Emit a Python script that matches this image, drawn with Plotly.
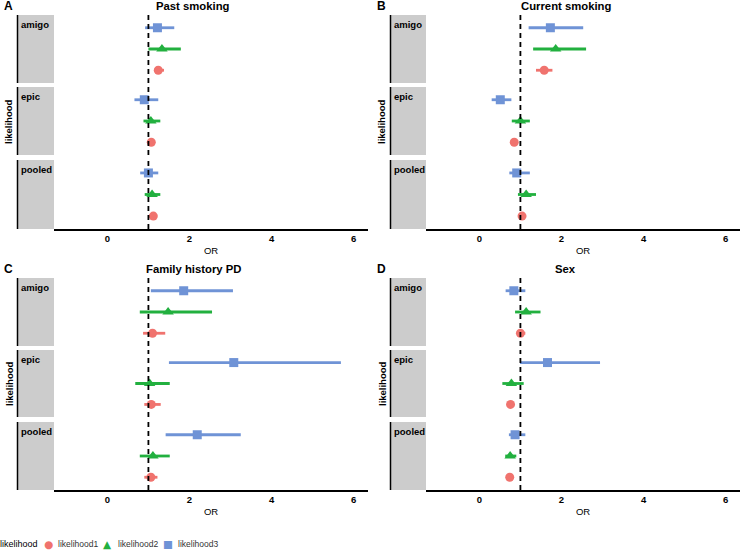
import plotly.graph_objects as go

W, H = 741, 550

studies = ["amigo", "epic", "pooled"]
likelihoods = ["likelihood1", "likelihood2", "likelihood3"]
panel_titles = ["Past smoking", "Current smoking", "Family history PD", "Sex"]
panel_letters = ["A", "B", "C", "D"]

# OR estimates, rows = study (amigo, epic, pooled), cols = likelihood1..3
past_or = [[1.24, 1.33, 1.22], [1.07, 1.06, 0.90], [1.12, 1.09, 1.00]]
past_lo = [[1.15, 1.00, 0.92], [1.01, 0.88, 0.66], [1.05, 0.91, 0.80]]
past_hi = [[1.38, 1.79, 1.63], [1.14, 1.29, 1.24], [1.19, 1.29, 1.24]]

current_or = [[1.58, 1.86, 1.73], [0.85, 1.00, 0.51], [1.04, 1.14, 0.91]]
current_lo = [[1.38, 1.31, 1.20], [0.78, 0.79, 0.30], [0.98, 0.94, 0.73]]
current_hi = [[1.78, 2.60, 2.53], [0.93, 1.23, 0.78], [1.10, 1.38, 1.23]]

family_or = [[1.10, 1.48, 1.86], [1.07, 1.03, 3.08], [1.06, 1.11, 2.19]]
family_lo = [[0.87, 0.79, 1.06], [0.90, 0.68, 1.50], [0.90, 0.79, 1.42]]
family_hi = [[1.41, 2.55, 3.06], [1.30, 1.52, 5.69], [1.22, 1.52, 3.25]]

sex_or = [[1.00, 1.14, 0.84], [0.76, 0.78, 1.66], [0.74, 0.75, 0.87]]
sex_lo = [[0.92, 0.87, 0.64], [0.72, 0.56, 0.99], [0.70, 0.63, 0.72]]
sex_hi = [[1.12, 1.49, 1.12], [0.80, 1.08, 2.94], [0.78, 0.90, 1.12]]

x_ticks = [0, 2, 4, 6]

panels_or = [past_or, current_or, family_or, sex_or]
panels_lo = [past_lo, current_lo, family_lo, sex_lo]
panels_hi = [past_hi, current_hi, family_hi, sex_hi]

colors = ["#F0736E", "#22B03F", "#6F93D6"]
symbols = ["circle", "triangle-up", "square"]
legend_glyphs = ["\u25CF", "\u25B2", "\u25A0"]
msizes = [9, 10, 9]

FONT = "Liberation Sans, Arial, sans-serif"

# pixel layout: plot-area x range and facet y ranges for each panel
panel_x = [(54, 368), (426, 740), (54, 368), (426, 740)]
strip_x = [(18, 54), (391, 426), (18, 54), (391, 426)]
top_facets = [(15, 83), (87, 155), (160, 229)]
bot_facets = [(278, 346), (350, 417), (422, 490)]
panel_facets = [top_facets, top_facets, bot_facets, bot_facets]


def px(x):
    return x / W


def py(y):
    return 1 - y / H


fig = go.Figure()
shapes = []
annotations = []
layout = {}

for p in range(4):
    xname = "x" if p == 0 else f"x{p + 1}"
    x0, x1 = panel_x[p]
    s0, s1 = strip_x[p]
    facets = panel_facets[p]
    for f, study in enumerate(studies):
        yi = p * 3 + f + 1
        yname = "y" if yi == 1 else f"y{yi}"
        ft, fb = facets[f]
        layout["yaxis" if yi == 1 else f"yaxis{yi}"] = dict(
            domain=[py(fb), py(ft)], anchor=xname, type="category",
            categoryorder="array", categoryarray=likelihoods,
            range=[-0.6, 2.6], showticklabels=False, showgrid=False,
            zeroline=False, showline=False, fixedrange=True)
        for k, lik in enumerate(likelihoods):
            est = panels_or[p][f][k]
            lo = panels_lo[p][f][k]
            hi = panels_hi[p][f][k]
            fig.add_trace(go.Scatter(
                x=[est], y=[lik], xaxis=xname, yaxis=yname, mode="markers",
                name=lik, showlegend=False,
                marker=dict(color=colors[k], symbol=symbols[k], size=msizes[k]),
                error_x=dict(type="data", symmetric=False, array=[hi - est],
                             arrayminus=[est - lo], width=0, thickness=2.8,
                             color=colors[k])))
        # strip background and left border
        shapes.append(dict(type="rect", xref="paper", yref="paper",
                           x0=px(s0), x1=px(s1), y0=py(fb), y1=py(ft),
                           fillcolor="#CCCCCC", line=dict(width=0), layer="below"))
        shapes.append(dict(type="line", xref="paper", yref="paper",
                           x0=px(s0 - 0.5), x1=px(s0 - 0.5), y0=py(fb), y1=py(ft),
                           line=dict(color="black", width=1.5)))
        annotations.append(dict(text=study, xref="paper", yref="paper",
                                x=px(s0 + 1), y=py(ft + 2), xanchor="left",
                                yanchor="top", showarrow=False,
                                font=dict(family=FONT, size=9.5, color="black",
                                          weight="bold")))
        # reference line at OR = 1
        shapes.append(dict(type="line", xref=xname, yref=f"{yname} domain",
                           x0=1, x1=1, y0=0, y1=1,
                           line=dict(color="black", width=1.8, dash="5px,4px")))

    bottom_y = "y" + str(p * 3 + 3)
    layout["xaxis" if p == 0 else f"xaxis{p + 1}"] = dict(
        domain=[px(x0), px(x1)], anchor=bottom_y, range=[-1.3, 6.35],
        tickvals=x_ticks, showgrid=False, zeroline=False, showline=True,
        linecolor="black", linewidth=1.5, ticks="", fixedrange=True,
        automargin=False,
        tickfont=dict(family=FONT, size=9.5, color="black", weight="bold"),
        title=dict(text="OR", standoff=4,
                   font=dict(family=FONT, size=9.5, color="black")))

    # titles, panel letters, y label
    ptop = facets[0][0]
    pbot = facets[2][1]
    annotations.append(dict(text=panel_titles[p], xref="paper", yref="paper",
                            x=px((s0 + x1) / 2), y=py(ptop - 9), xanchor="center",
                            yanchor="middle", showarrow=False,
                            font=dict(family=FONT, size=11.3, color="black",
                                      weight="bold")))
    annotations.append(dict(text=panel_letters[p], xref="paper", yref="paper",
                            x=px(s0 - 16), y=py(ptop - 9), xanchor="left",
                            yanchor="middle", showarrow=False,
                            font=dict(family=FONT, size=12, color="black",
                                      weight="bold")))
    annotations.append(dict(text="likelihood", xref="paper", yref="paper",
                            x=px(s0 - 9), y=py((ptop + pbot) / 2), xanchor="center",
                            yanchor="middle", textangle=-90, showarrow=False,
                            font=dict(family=FONT, size=9.5, color="black",
                                      weight="bold")))

# bottom legend (ggplot style: title then glyph + label for each level)
LEG_Y = py(544)
annotations.append(dict(text="likelihood", xref="paper", yref="paper",
                        x=px(-1), y=LEG_Y, xanchor="left", yanchor="middle",
                        showarrow=False, borderpad=0,
                        font=dict(family=FONT, size=9, color="black")))
for k, lik in enumerate(likelihoods):
    gx = 48 + 60 * k
    annotations.append(dict(text=legend_glyphs[k], xref="paper", yref="paper",
                            x=px(gx), y=LEG_Y, xanchor="center", yanchor="middle",
                            showarrow=False, borderpad=0,
                            font=dict(family="DejaVu Sans", size=10.5,
                                      color=colors[k])))
    annotations.append(dict(text=lik, xref="paper", yref="paper",
                            x=px(gx + 9), y=LEG_Y, xanchor="left",
                            yanchor="middle", showarrow=False, borderpad=0,
                            font=dict(family=FONT, size=8.5, color="#333333")))

fig.update_layout(
    width=W, height=H,
    margin=dict(l=0, r=0, t=0, b=0, autoexpand=False),
    paper_bgcolor="white", plot_bgcolor="white",
    font=dict(family=FONT, color="black"),
    shapes=shapes, annotations=annotations, showlegend=False,
    **layout)

# the page body has a default 8px margin; drop it so the figure sits at 0,0
fig.write_html("out.html", config={"displayModeBar": False},
               post_script="document.body.style.margin='0';")
